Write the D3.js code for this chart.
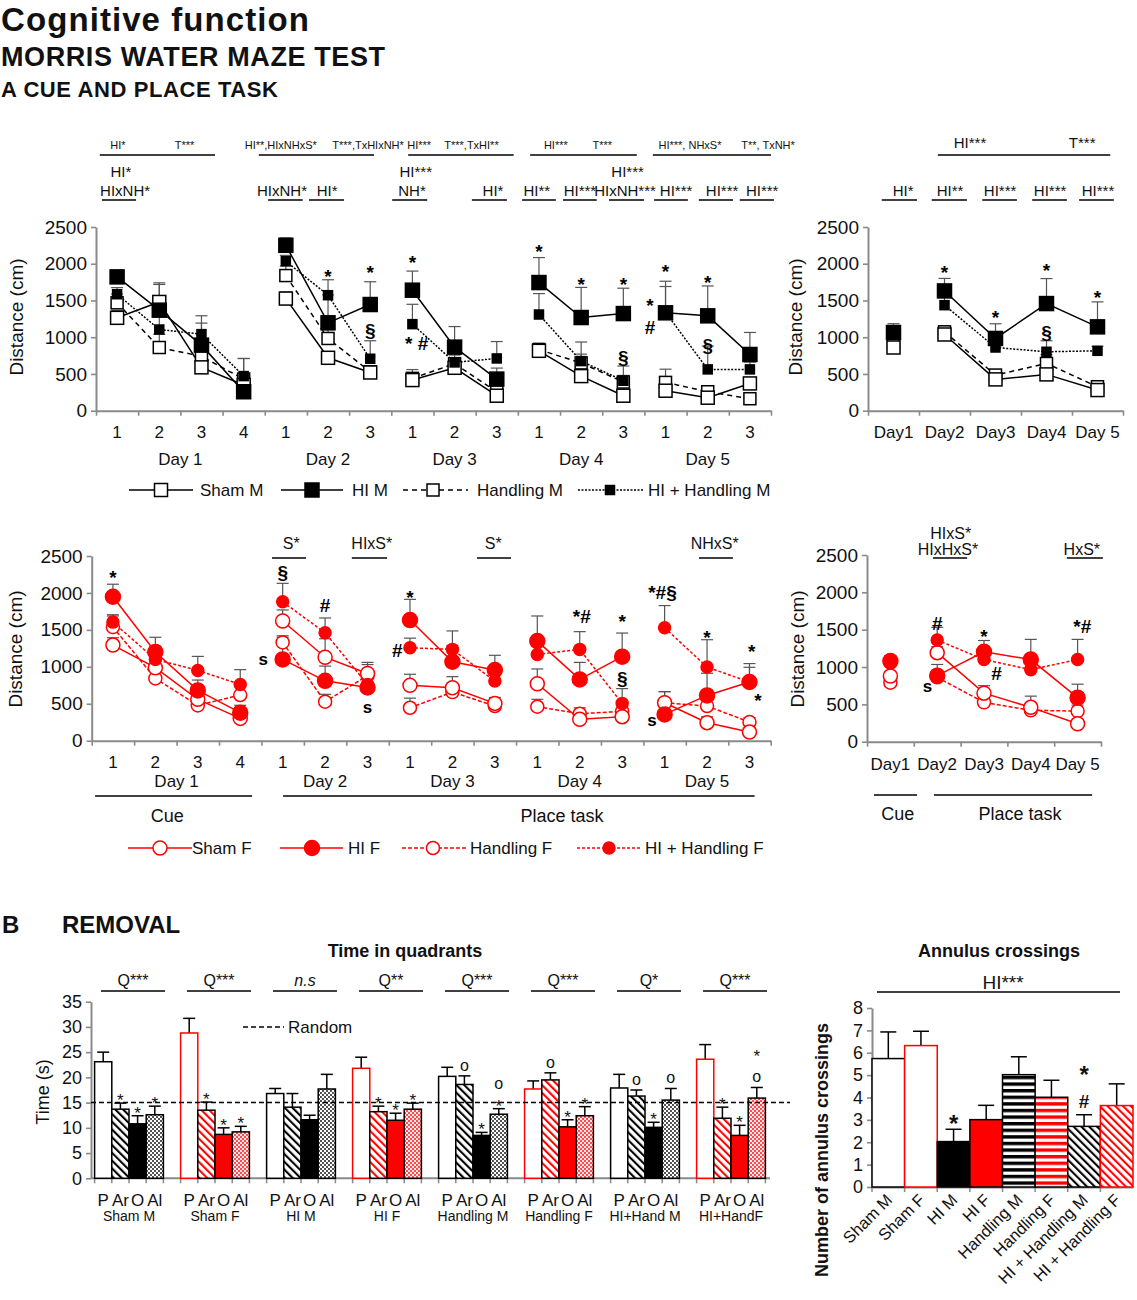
<!DOCTYPE html>
<html>
<head>
<meta charset="utf-8">
<script src="https://cdn.jsdelivr.net/npm/d3@7/dist/d3.min.js"></script>
<style>
body { margin: 0; background: #fff; }
text { font-family: Arial, "Liberation Sans", sans-serif; }
</style>
</head>
<body>
<div id="fig"></div>
<script>
// ---------- panel A data ----------
var trialLabels = ["1","2","3","4","1","2","3","1","2","3","1","2","3","1","2","3"];
var trialsPerDay = [4, 3, 3, 3, 3];
var dayNames = ["Day 1", "Day 2", "Day 3", "Day 4", "Day 5"];
var dayShort = ["Day1", "Day2", "Day3", "Day4", "Day 5"];
var distTicks = [0, 500, 1000, 1500, 2000, 2500];

// males: distance per trial (cm) and SEM
var shamM    = [1264,1480,590,350, 1526,720,520, 417,584,204, 815,471,204, 272,177,371];
var shamMe   = [100,260,130,120, 90,60,60, 100,80,60, 80,60,60, 90,60,60];
var hiM      = [1821,1368,892,258, 2251,1196,1445, 1640,865,430, 1744,1268,1322, 1332,1291,765];
var hiMe     = [70,350,400,100, 100,380,310, 260,280,150, 340,410,345, 430,407,300];
var handM    = [1468,860,740,430, 1839,983,530, 440,640,258, 830,650,390, 385,258,163];
var handMe   = [120,180,200,280, 130,120,60, 120,80,90, 90,120,90, 180,60,50];
var hiHandM  = [1585,1105,1042,471, 2034,1572,707, 1178,657,711, 1309,675,408, 1340,562,562];
var hiHandMe = [90,200,150,240, 80,210,245, 270,100,230, 285,260,200, 350,317,100];

// males: mean per day
var shamMd    = [860, 1037, 426, 494, 281];
var shamMde   = [150, 80, 60, 60, 50];
var hiMd      = [1064, 1630, 983, 1458, 1141];
var hiMde     = [120, 170, 200, 340, 340];
var handMd    = [915, 1073, 485, 643, 326];
var handMde   = [120, 80, 60, 120, 50];
var hiHandMd  = [1040, 1436, 860, 802, 815];
var hiHandMde = [100, 120, 100, 150, 60];

// females: distance per trial (cm) and SEM
var shamF    = [1294,988,560,302, 1620,1130,910, 749,717,505, 771,289,325, 514,244,117];
var shamFe   = [100,150,150,80, 150,250,120, 150,150,80, 200,80,80, 150,80,60];
var hiF      = [1948,1200,681,379, 1100,810,720, 1633,1069,956, 1348,830,1137, 356,613,794];
var hiFe     = [170,200,140,100, 300,200,150, 280,220,200, 340,230,320, 200,300,200];
var handF    = [1538,843,478,618, 1330,528,880, 446,658,469, 460,365,397, 514,469,253];
var handFe   = [150,100,120,150, 90,100,180, 130,120,80, 100,80,80, 150,100,60];
var hiHandF  = [1605,1100,951,762, 1880,1461,760, 1258,1236,807, 1168,1236,505, 1529,997,794];
var hiHandFe = [100,180,190,200, 250,200,150, 130,250,120, 200,240,200, 300,370,250];

// females: mean per day
var shamFd    = [880, 1192, 650, 460, 240];
var shamFde   = [60, 80, 100, 150, 60];
var hiFd      = [1080, 884, 1205, 1100, 590];
var hiFde     = [70, 150, 150, 270, 180];
var handFd    = [790, 862, 527, 420, 410];
var handFde   = [90, 60, 60, 60, 80];
var hiHandFd  = [1050, 1361, 1100, 965, 1100];
var hiHandFde = [100, 170, 150, 100, 270];

// significance signs: x in trial units (centre of trial k is k+0.5), v = height in cm
var marksTopL = [
  {x:5.5, v:1888, t:"*"}, {x:6.5, v:1942, t:"*"}, {x:6.5, v:1098, t:"§"},
  {x:7.5, v:2078, t:"*"}, {x:7.6, v:921, t:"* #"},
  {x:10.5, v:2228, t:"*"}, {x:11.5, v:1779, t:"*"}, {x:12.5, v:1779, t:"*"}, {x:12.5, v:731, t:"§"},
  {x:13.5, v:1956, t:"*"}, {x:13.13, v:1500, t:"*"}, {x:13.13, v:1140, t:"#"},
  {x:14.5, v:1806, t:"*"}, {x:14.5, v:894, t:"§"}
];
var marksTopR = [
  {x:1.5, v:1942, t:"*"}, {x:2.5, v:1329, t:"*"}, {x:3.5, v:1969, t:"*"},
  {x:3.5, v:1071, t:"§"}, {x:4.5, v:1602, t:"*"}
];
var marksBotL = [
  {x:0.5, v:2279, t:"*"}, {x:4.5, v:2293, t:"§"}, {x:5.5, v:1834, t:"#"},
  {x:4.04, v:1117, t:"s"}, {x:6.5, v:469, t:"s"},
  {x:7.5, v:2009, t:"*"}, {x:7.2, v:1225, t:"#"},
  {x:11.55, v:1685, t:"*#"}, {x:12.5, v:1685, t:"*"}, {x:12.5, v:847, t:"§"},
  {x:13.45, v:2022, t:"*#§"}, {x:14.5, v:1469, t:"*"}, {x:15.55, v:1279, t:"*"},
  {x:15.7, v:604, t:"*"}, {x:13.2, v:293, t:"s"}
];
var marksBotR = [
  {x:1.5, v:1595, t:"#"}, {x:1.29, v:749, t:"s"}, {x:2.5, v:1474, t:"*"},
  {x:2.77, v:923, t:"#"}, {x:4.6, v:1555, t:"*#"}
];

// ANOVA results above the plots
var statTopL1 = [
  {x:0.52, t:"HI*"}, {x:2.1, t:"T***"}, {x:4.38, t:"HI**,HIxNHxS*"}, {x:6.45, t:"T***,TxHIxNH*"},
  {x:7.66, t:"HI***"}, {x:8.9, t:"T***,TxHI**"}, {x:10.9, t:"HI***"}, {x:12.0, t:"T***"},
  {x:14.08, t:"HI***, NHxS*"}, {x:15.93, t:"T**, TxNH*"}
];
var statTopL1Lines = [[0.09, 2.82], [3.86, 6.59], [7.4, 9.9], [10.29, 12.82], [13.2, 16]];
var statTopL2 = [{x:0.59, t:"HI*"}, {x:7.58, t:"HI***"}, {x:12.6, t:"HI***"}];
var statTopL3 = [
  {x:0.69, t:"HIxNH*", a:0.14, b:0.95}, {x:4.41, t:"HIxNH*", a:4.08, b:4.9},
  {x:5.48, t:"HI*", a:5.05, b:5.88}, {x:7.49, t:"NH*", a:7.02, b:7.85},
  {x:9.41, t:"HI*", a:8.91, b:9.74}, {x:10.45, t:"HI**", a:10.1, b:10.9},
  {x:11.47, t:"HI***", a:11.07, b:11.87}, {x:12.54, t:"HIxNH***", a:12.16, b:12.99},
  {x:13.75, t:"HI***", a:13.23, b:14.03}, {x:14.84, t:"HI***", a:14.29, b:15.1},
  {x:15.79, t:"HI***", a:15.26, b:16.07}
];
var statTopR1 = [{x:2.0, t:"HI***"}, {x:4.2, t:"T***"}];
var statTopR1Lines = [[1.37, 4.75]];
var statTopR3 = [
  {x:0.69, t:"HI*", a:0.27, b:0.96}, {x:1.61, t:"HI**", a:1.25, b:1.94},
  {x:2.59, t:"HI***", a:2.24, b:2.92}, {x:3.57, t:"HI***", a:3.22, b:3.9},
  {x:4.51, t:"HI***", a:4.14, b:4.82}
];
var statBotL = [
  {x:4.7, t:"S*", a:4.25, b:5.05}, {x:6.6, t:"HIxS*", a:6.13, b:6.96},
  {x:9.46, t:"S*", a:9.08, b:9.88}, {x:14.68, t:"NHxS*", a:14.31, b:15.11}
];
var statBotR = [{x:1.73, t:"HIxHxS*", a:1.41, b:2.14}, {x:4.59, t:"HxS*", a:4.27, b:5.04}];

// ---------- panel B data ----------
var groups = ["Sham M", "Sham F", "HI M", "HI F", "Handling M", "Handling F", "HI+Hand M", "HI+HandF"];
var groupSex = ["M", "F", "M", "F", "M", "F", "M", "F"];
var quadrants = ["P", "Ar", "O", "Al"];
var timeP   = [23.1, 28.8, 16.8, 21.8, 20.2, 17.7, 17.9, 23.6];
var timePe  = [1.9, 2.9, 1.0, 2.2, 1.8, 1.6, 2.7, 2.9];
var timeAr  = [13.7, 13.5, 14.1, 13.2, 18.6, 19.5, 16.3, 11.9];
var timeAre = [1.2, 1.6, 2.7, 1.1, 1.7, 1.4, 1.2, 2.2];
var timeO   = [10.8, 8.7, 11.6, 11.5, 8.5, 10.2, 10.1, 8.5];
var timeOe  = [1.6, 1.3, 0.9, 1.4, 0.6, 1.4, 1.0, 2.0];
var timeAl  = [12.6, 9.2, 17.7, 13.7, 12.7, 12.4, 15.5, 15.9];
var timeAle = [1.7, 1.1, 2.9, 1.2, 1.1, 1.8, 2.3, 2.1];
var timeTicks = [0, 5, 10, 15, 20, 25, 30, 35];
var randomLevel = 15;
var timeStats = ["Q***", "Q***", "n.s", "Q**", "Q***", "Q***", "Q*", "Q***"];
// signs above each quadrant bar, listed top to bottom
var timeMarks = [
  [[], ["*"], ["*"], ["*"]],
  [[], ["*"], ["*"], ["*"]],
  [[], [], [], []],
  [[], ["*"], ["*"], ["*"]],
  [[], ["o"], ["*"], ["o", "*"]],
  [[], ["o"], ["*"], ["*"]],
  [[], ["o"], ["*"], ["o"]],
  [[], ["*"], ["*"], ["*", "o"]]
];

var annulusGroups = ["Sham M", "Sham F", "HI M", "HI F", "Handling M", "Handling F", "HI + Handling M", "HI + Handling  F"];
var annulus    = [5.74, 6.32, 2.03, 3.01, 5.02, 4.01, 2.71, 3.64];
var annulusErr = [1.19, 0.64, 0.55, 0.64, 0.80, 0.76, 0.52, 0.97];
var annulusTicks = [0, 1, 2, 3, 4, 5, 6, 7, 8];

// ---------- drawing ----------
var RED = "#ff0000", AX = "#8a8a8a", INK = "#111";
var svg = d3.select("#fig").append("svg").attr("width", 1137).attr("height", 1300);
var defs = svg.append("defs");

function txt(g, x, y, s, fs, opt) {
  opt = opt || {};
  return g.append("text").attr("x", x).attr("y", y)
    .attr("font-size", fs)
    .attr("text-anchor", opt.anchor || "middle")
    .attr("font-weight", opt.bold ? "bold" : null)
    .attr("font-style", opt.italic ? "italic" : null)
    .attr("fill", opt.fill || INK)
    .text(s);
}
function hline(g, x1, x2, y, w, color) {
  return g.append("line").attr("x1", x1).attr("x2", x2).attr("y1", y).attr("y2", y)
   .attr("stroke", color || "#000").attr("stroke-width", w || 1.5);
}

// patterns
function hatch(id, color, angle, gap, bg) {
  var p = defs.append("pattern").attr("id", id).attr("patternUnits", "userSpaceOnUse")
    .attr("width", gap).attr("height", gap).attr("patternTransform", "rotate(" + angle + ")");
  p.append("rect").attr("width", gap).attr("height", gap).attr("fill", bg);
  p.append("rect").attr("x", 0).attr("width", gap * 0.38).attr("height", gap).attr("fill", color);
}
function dots(id, color, bg) {
  var p = defs.append("pattern").attr("id", id).attr("patternUnits", "userSpaceOnUse")
    .attr("width", 4).attr("height", 4);
  p.append("rect").attr("width", 4).attr("height", 4).attr("fill", bg);
  p.append("circle").attr("cx", 1).attr("cy", 1).attr("r", 0.9).attr("fill", color);
  p.append("circle").attr("cx", 3).attr("cy", 3).attr("r", 0.9).attr("fill", color);
}
function stripes(id, color) {
  var p = defs.append("pattern").attr("id", id).attr("patternUnits", "userSpaceOnUse")
    .attr("width", 8).attr("height", 6.6);
  p.append("rect").attr("width", 8).attr("height", 6.6).attr("fill", "#fff");
  p.append("rect").attr("y", 0).attr("width", 8).attr("height", 3.4).attr("fill", color);
}
hatch("hatchK", "#000", -45, 5.5, "#fff");
hatch("hatchR", RED, -45, 5.5, "#fff");
dots("dotsK", "#000", "#fff");
dots("dotsR", RED, "#ffe6e6");
stripes("stripeK", "#000");
stripes("stripeR", RED);

// titles
txt(svg, 1, 31, "Cognitive function", 33, {anchor: "start", bold: true}).attr("textLength", 308);
txt(svg, 1, 66, "MORRIS WATER MAZE TEST", 27, {anchor: "start", bold: true}).attr("textLength", 384);
txt(svg, 1, 97, "A CUE AND PLACE TASK", 22, {anchor: "start", bold: true}).attr("textLength", 277);

function styleAxis(a) {
  a.select(".domain").attr("stroke", AX).attr("stroke-width", 2);
  a.selectAll(".tick line").attr("stroke", AX).attr("stroke-width", 1.6);
  a.selectAll(".tick text").attr("fill", INK).attr("font-family", "Arial, 'Liberation Sans', sans-serif");
}
function frame(g, x, y, n, ticks, fs) {
  var ya = g.append("g").attr("transform", "translate(" + x(0) + ",0)")
    .call(d3.axisLeft(y).tickValues(ticks).tickFormat(d3.format("d")).tickSize(5).tickSizeOuter(0).tickPadding(4));
  styleAxis(ya);
  ya.selectAll(".tick text").attr("font-size", fs);
  var xa = g.append("g").attr("transform", "translate(0," + y(0) + ")")
    .call(d3.axisBottom(x).tickValues(d3.range(n + 1)).tickFormat("").tickSize(5).tickSizeOuter(0));
  styleAxis(xa);
}

function daySegments(perDay) {
  var segs = [], s = 0;
  perDay.forEach(function (n) { segs.push(d3.range(s, s + n)); s += n; });
  return segs;
}

function marker(g, cx, cy, s) {
  if (s.shape === "square") {
    g.append("rect").attr("x", cx - s.size / 2).attr("y", cy - s.size / 2)
      .attr("width", s.size).attr("height", s.size)
      .attr("fill", s.fill).attr("stroke", s.color).attr("stroke-width", 1.5);
  } else {
    g.append("circle").attr("cx", cx).attr("cy", cy).attr("r", s.size / 2)
      .attr("fill", s.fill).attr("stroke", s.color).attr("stroke-width", 1.5);
  }
}

function lineChart(g, x, y, segs, series, key, ekey) {
  series.forEach(function (s) {
    s[key].forEach(function (v, i) {
      var cx = x(i + 0.5), y0 = y(v), y1 = y(v + s[ekey][i]);
      g.append("line").attr("x1", cx).attr("x2", cx).attr("y1", y0).attr("y2", y1)
        .attr("stroke", "#555").attr("stroke-width", 1.2);
      g.append("line").attr("x1", cx - 6).attr("x2", cx + 6).attr("y1", y1).attr("y2", y1)
        .attr("stroke", "#555").attr("stroke-width", 1.2);
    });
  });
  var line = d3.line().x(function (d) { return x(d.i + 0.5); }).y(function (d) { return y(d.v); });
  series.forEach(function (s) {
    segs.forEach(function (seg) {
      if (seg.length < 2) return;
      var pts = seg.map(function (i) { return {i: i, v: s[key][i]}; });
      g.append("path").attr("d", line(pts)).attr("fill", "none")
        .attr("stroke", s.color).attr("stroke-width", 1.5).attr("stroke-dasharray", s.dash);
    });
  });
  series.forEach(function (s) {
    s[key].forEach(function (v, i) { marker(g, x(i + 0.5), y(v), s); });
  });
}

function signs(g, x, y, list) {
  list.forEach(function (m) {
    var fs = m.t === "s" ? 17 : 19;
    var k = /^\*+$/.test(m.t) ? 0.6 : 0.38;
    txt(g, x(m.x), y(m.v) + k * fs, m.t, fs, {bold: true, fill: "#000"});
  });
}

function legend(g, items, yc) {
  items.forEach(function (it) {
    g.append("line").attr("x1", it.x1).attr("x2", it.x2).attr("y1", yc).attr("y2", yc)
      .attr("stroke", it.s.color).attr("stroke-width", 1.5).attr("stroke-dasharray", it.s.dash);
    marker(g, it.xm, yc, it.s);
    txt(g, it.xt, yc + 6, it.s.label, 17, {anchor: "start"});
  });
}

// ----- series styles (legend order) -----
var maleSeries = [
  {label: "Sham M", t: shamM, te: shamMe, d: shamMd, de: shamMde, color: "#000", dash: null, shape: "square", size: 13, fill: "#fff"},
  {label: "HI M", t: hiM, te: hiMe, d: hiMd, de: hiMde, color: "#000", dash: null, shape: "square", size: 14, fill: "#000"},
  {label: "Handling M", t: handM, te: handMe, d: handMd, de: handMde, color: "#000", dash: "5,4", shape: "square", size: 12, fill: "#fff"},
  {label: "HI + Handling M", t: hiHandM, te: hiHandMe, d: hiHandMd, de: hiHandMde, color: "#000", dash: "2,1.5", shape: "square", size: 9, fill: "#000"}
];
var femaleSeries = [
  {label: "Sham F", t: shamF, te: shamFe, d: shamFd, de: shamFde, color: RED, dash: null, shape: "circle", size: 14, fill: "#fff"},
  {label: "HI F", t: hiF, te: hiFe, d: hiFd, de: hiFde, color: RED, dash: null, shape: "circle", size: 15, fill: RED},
  {label: "Handling F", t: handF, te: handFe, d: handFd, de: handFde, color: RED, dash: "4,2", shape: "circle", size: 13, fill: "#fff"},
  {label: "HI + Handling F", t: hiHandF, te: hiHandFe, d: hiHandFd, de: hiHandFde, color: RED, dash: "3,2", shape: "circle", size: 12, fill: RED}
];
var drawOrder = [2, 0, 3, 1];
var nTrials = trialLabels.length;
var trialSegs = daySegments(trialsPerDay);
var daySegs = [[0], [1, 2, 3, 4]];

function dayCentre(x, d) {
  var s = d3.sum(trialsPerDay.slice(0, d));
  return x(s + trialsPerDay[d] / 2);
}

// ----- A, males per trial -----
var gTL = svg.append("g");
var xTL = d3.scaleLinear().domain([0, nTrials]).range([96, 771]);
var yTop = d3.scaleLinear().domain([0, 2500]).range([410.7, 227]);
frame(gTL, xTL, yTop, nTrials, distTicks, 19);
lineChart(gTL, xTL, yTop, trialSegs, drawOrder.map(function (i) { return maleSeries[i]; }), "t", "te");
trialLabels.forEach(function (t, i) { txt(gTL, xTL(i + 0.5), 438, t, 17); });
dayNames.forEach(function (d, i) { txt(gTL, dayCentre(xTL, i), 465, d, 17); });
txt(gTL, 0, 0, "Distance (cm)", 19).attr("transform", "translate(23,317) rotate(-90)");
signs(gTL, xTL, yTop, marksTopL);
statTopL1.forEach(function (s) { txt(gTL, xTL(s.x), 149, s.t, 11); });
statTopL1Lines.forEach(function (l) { hline(gTL, xTL(l[0]), xTL(l[1]), 155); });
statTopL2.forEach(function (s) { txt(gTL, xTL(s.x), 177, s.t, 15); });
statTopL3.forEach(function (s) { txt(gTL, xTL(s.x), 196, s.t, 15); hline(gTL, xTL(s.a), xTL(s.b), 200); });

// ----- A, males per day -----
var gTR = svg.append("g");
var xTR = d3.scaleLinear().domain([0, 5]).range([868, 1123]);
frame(gTR, xTR, yTop, 5, distTicks, 19);
lineChart(gTR, xTR, yTop, daySegs, drawOrder.map(function (i) { return maleSeries[i]; }), "d", "de");
dayShort.forEach(function (d, i) { txt(gTR, xTR(i + 0.5), 438, d, 17); });
txt(gTR, 0, 0, "Distance (cm)", 19).attr("transform", "translate(802,317) rotate(-90)");
signs(gTR, xTR, yTop, marksTopR);
statTopR1.forEach(function (s) { txt(gTR, xTR(s.x), 148, s.t, 15); });
statTopR1Lines.forEach(function (l) { hline(gTR, xTR(l[0]), xTR(l[1]), 155); });
statTopR3.forEach(function (s) { txt(gTR, xTR(s.x), 196, s.t, 15); hline(gTR, xTR(s.a), xTR(s.b), 200); });

legend(svg, [
  {s: maleSeries[0], x1: 129, x2: 193, xm: 161, xt: 200},
  {s: maleSeries[1], x1: 281, x2: 343, xm: 312, xt: 352},
  {s: maleSeries[2], x1: 403, x2: 468, xm: 433, xt: 477},
  {s: maleSeries[3], x1: 578, x2: 643, xm: 610, xt: 648}
], 490);

// ----- A, females per trial -----
var gBL = svg.append("g");
var xBL = d3.scaleLinear().domain([0, nTrials]).range([91.7, 770.7]);
var yBot = d3.scaleLinear().domain([0, 2500]).range([740.7, 556]);
frame(gBL, xBL, yBot, nTrials, distTicks, 19);
lineChart(gBL, xBL, yBot, trialSegs, drawOrder.map(function (i) { return femaleSeries[i]; }), "t", "te");
trialLabels.forEach(function (t, i) { txt(gBL, xBL(i + 0.5), 768, t, 17); });
dayNames.forEach(function (d, i) { txt(gBL, dayCentre(xBL, i), 787, d, 17); });
txt(gBL, 0, 0, "Distance (cm)", 19).attr("transform", "translate(22,649) rotate(-90)");
signs(gBL, xBL, yBot, marksBotL);
statBotL.forEach(function (s) { txt(gBL, xBL(s.x), 549, s.t, 16); hline(gBL, xBL(s.a), xBL(s.b), 558); });
hline(gBL, xBL(0.08), xBL(3.78), 796);
hline(gBL, xBL(4.51), xBL(15.62), 796);
txt(gBL, xBL(1.78), 822, "Cue", 18);
txt(gBL, xBL(11.08), 822, "Place task", 18);

// ----- A, females per day -----
var gBR = svg.append("g");
var xBR = d3.scaleLinear().domain([0, 5]).range([867, 1101]);
var yBotR = d3.scaleLinear().domain([0, 2500]).range([741.7, 555]);
frame(gBR, xBR, yBotR, 5, distTicks, 19);
lineChart(gBR, xBR, yBotR, daySegs, drawOrder.map(function (i) { return femaleSeries[i]; }), "d", "de");
dayShort.forEach(function (d, i) { txt(gBR, xBR(i + 0.5), 770, d, 17); });
txt(gBR, 0, 0, "Distance (cm)", 19).attr("transform", "translate(804,649) rotate(-90)");
signs(gBR, xBR, yBotR, marksBotR);
txt(gBR, xBR(1.79), 539, "HIxS*", 16);
statBotR.forEach(function (s) { txt(gBR, xBR(s.x), 555, s.t, 16); hline(gBR, xBR(s.a), xBR(s.b), 558); });
hline(gBR, xBR(0.15), xBR(1.07), 795);
hline(gBR, xBR(1.43), xBR(4.81), 795);
txt(gBR, xBR(0.66), 820, "Cue", 18);
txt(gBR, xBR(3.27), 820, "Place task", 18);

legend(svg, [
  {s: femaleSeries[0], x1: 128, x2: 192, xm: 160, xt: 192},
  {s: femaleSeries[1], x1: 280, x2: 343, xm: 312, xt: 348},
  {s: femaleSeries[2], x1: 402, x2: 468, xm: 433, xt: 470},
  {s: femaleSeries[3], x1: 577, x2: 640, xm: 609, xt: 645}
], 848);

// ---------- B, time in quadrants ----------
txt(svg, 2, 933, "B", 24, {anchor: "start", bold: true});
txt(svg, 62, 933, "REMOVAL", 24, {anchor: "start", bold: true});
txt(svg, 405, 957, "Time in quadrants", 18, {bold: true});

var gT = svg.append("g");
var xG = d3.scaleBand().domain(groups).range([86, 774]).paddingInner(0.2).paddingOuter(0.1);
var xQ = d3.scaleBand().domain(quadrants).range([0, xG.bandwidth()]);
var yT = d3.scaleLinear().domain([0, 35]).range([1178.3, 1001.7]);
var tya = gT.append("g").attr("transform", "translate(91,0)")
  .call(d3.axisLeft(yT).tickValues(timeTicks).tickSize(5).tickSizeOuter(0).tickPadding(4));
styleAxis(tya);
tya.selectAll(".tick text").attr("font-size", 18);
hline(gT, 91, 770, yT(0), 2, AX);
// tick marks at bar edges
var edges = [];
groups.forEach(function (gname) {
  quadrants.forEach(function (q) { edges.push(xG(gname) + xQ(q)); });
  edges.push(xG(gname) + xG.bandwidth());
});
edges.forEach(function (e) {
  gT.append("line").attr("x1", e).attr("x2", e).attr("y1", yT(0)).attr("y2", yT(0) + 5)
    .attr("stroke", AX).attr("stroke-width", 1.5);
});

var quadVals = [timeP, timeAr, timeO, timeAl];
var quadErr = [timePe, timeAre, timeOe, timeAle];
function quadFill(q, sex) {
  var red = sex === "F";
  if (q === 0) return "#fff";
  if (q === 1) return red ? "url(#hatchR)" : "url(#hatchK)";
  if (q === 2) return red ? RED : "#000";
  return red ? "url(#dotsR)" : "url(#dotsK)";
}
groups.forEach(function (gname, gi) {
  quadrants.forEach(function (q, qi) {
    var v = quadVals[qi][gi], e = quadErr[qi][gi];
    var x0 = xG(gname) + xQ(q), w = xQ.bandwidth(), cx = x0 + w / 2;
    gT.append("line").attr("x1", cx).attr("x2", cx).attr("y1", yT(v)).attr("y2", yT(v + e))
      .attr("stroke", "#000").attr("stroke-width", 1.5);
    gT.append("line").attr("x1", cx - 6).attr("x2", cx + 6).attr("y1", yT(v + e)).attr("y2", yT(v + e))
      .attr("stroke", "#000").attr("stroke-width", 1.5);
    gT.append("rect").attr("x", x0).attr("y", yT(v)).attr("width", w).attr("height", yT(0) - yT(v))
      .attr("fill", quadFill(qi, groupSex[gi]))
      .attr("stroke", qi === 0 && groupSex[gi] === "F" ? RED : "#000").attr("stroke-width", 1.5);
    // signs stacked upward from the error cap
    var marks = timeMarks[gi][qi];
    var yb = yT(v + e);
    for (var k = marks.length - 1; k >= 0; k--) {
      if (marks[k] === "*") { txt(gT, cx, yb + 3, "*", 17); yb -= 15; }
      else { txt(gT, cx, yb - 5, "o", 16); yb -= 28; }
    }
    txt(gT, cx, 1206, q, 17);
  });
  var gc = xG(gname) + xG.bandwidth() / 2;
  txt(gT, gc, 1221, gname, 14);
  txt(gT, gc + 4, 986, timeStats[gi], 16, {italic: timeStats[gi] === "n.s"});
  hline(gT, gc + 4 - 32, gc + 4 + 32, 991);
});
gT.append("line").attr("x1", 91).attr("x2", 790).attr("y1", yT(randomLevel)).attr("y2", yT(randomLevel))
  .attr("stroke", "#000").attr("stroke-width", 1.5).attr("stroke-dasharray", "5,3");
gT.append("line").attr("x1", 243).attr("x2", 284).attr("y1", 1027).attr("y2", 1027)
  .attr("stroke", "#000").attr("stroke-width", 1.5).attr("stroke-dasharray", "5,3");
txt(gT, 288, 1033, "Random", 17, {anchor: "start"});
txt(gT, 0, 0, "Time (s)", 18).attr("transform", "translate(49,1092) rotate(-90)");

// ---------- B, annulus crossings ----------
var gA = svg.append("g");
txt(gA, 999, 957, "Annulus crossings", 18, {bold: true});
txt(gA, 1003, 989, "HI***", 19);
hline(gA, 877, 1120, 992);
var xA = d3.scaleBand().domain(annulusGroups).range([872, 1133]);
var yA = d3.scaleLinear().domain([0, 8]).range([1187, 1008]);
var aya = gA.append("g").attr("transform", "translate(872,0)")
  .call(d3.axisLeft(yA).tickValues(annulusTicks).tickSize(5).tickSizeOuter(0).tickPadding(4));
styleAxis(aya);
aya.selectAll(".tick text").attr("font-size", 18);
var axa = gA.append("g").attr("transform", "translate(0," + yA(0) + ")")
  .call(d3.axisBottom(xA).tickSize(0).tickFormat(""));
styleAxis(axa);
annulusGroups.forEach(function (gname) {
  gA.append("line").attr("x1", xA(gname)).attr("x2", xA(gname)).attr("y1", yA(0)).attr("y2", yA(0) + 5)
    .attr("stroke", AX).attr("stroke-width", 1.5);
});
var annFill = ["#fff", "#fff", "#000", RED, "url(#stripeK)", "url(#stripeR)", "url(#hatchK)", "url(#hatchR)"];
var annStroke = ["#000", RED, "#000", "#000", "#000", "#000", "#000", RED];
annulusGroups.forEach(function (gname, i) {
  var x0 = xA(gname), w = xA.bandwidth(), cx = x0 + w / 2, v = annulus[i], e = annulusErr[i];
  gA.append("line").attr("x1", cx).attr("x2", cx).attr("y1", yA(v)).attr("y2", yA(v + e))
    .attr("stroke", "#000").attr("stroke-width", 1.5);
  gA.append("line").attr("x1", cx - 8).attr("x2", cx + 8).attr("y1", yA(v + e)).attr("y2", yA(v + e))
    .attr("stroke", "#000").attr("stroke-width", 1.5);
  gA.append("rect").attr("x", x0).attr("y", yA(v)).attr("width", w).attr("height", yA(0) - yA(v))
    .attr("fill", annFill[i]).attr("stroke", annStroke[i]).attr("stroke-width", 1.5);
  txt(gA, 0, 0, gname, 16.5, {anchor: "end"})
    .attr("transform", "translate(" + (cx + 5) + "," + (yA(0) + 14) + ") rotate(-45)");
});
var hiMBand = xA(annulusGroups[2]) + xA.bandwidth() / 2;
var hhMBand = xA(annulusGroups[6]) + xA.bandwidth() / 2;
txt(gA, hiMBand, yA(annulus[2] + annulusErr[2]) + 3, "*", 24, {bold: true});
txt(gA, hhMBand, yA(annulus[6] + annulusErr[6]) - 7, "#", 19, {bold: true});
txt(gA, hhMBand, yA(annulus[6] + annulusErr[6]) - 32, "*", 24, {bold: true});
txt(gA, 0, 0, "Number of annulus crossings", 18, {bold: true})
  .attr("transform", "translate(828,1150) rotate(-90)");
</script>
</body>
</html>
